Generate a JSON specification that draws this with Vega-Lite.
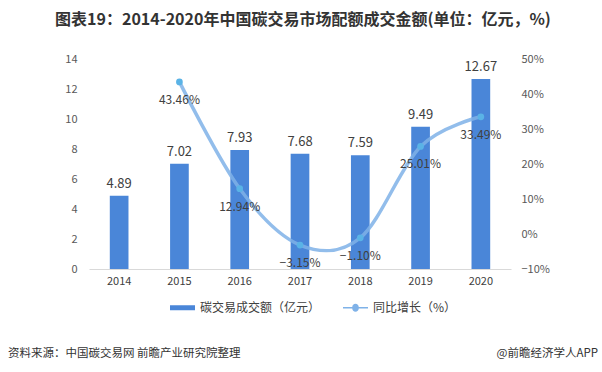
{
  "$schema": "https://vega.github.io/schema/vega-lite/v6.json",
  "padding": {"left": 8, "top": 12, "right": 4, "bottom": 4},
  "background": "white",
  "title": {
    "text": "图表19：2014-2020年中国碳交易市场配额成交金额(单位：亿元，%)",
    "anchor": "middle",
    "frame": "bounds",
    "font": "Noto Sans CJK SC",
    "fontSize": 16,
    "fontWeight": "bold",
    "color": "#333333",
    "offset": 25
  },
  "datasets": {
    "main": [
      {"year": "2014", "amount": 4.89, "growth": null},
      {"year": "2015", "amount": 7.02, "growth": 0.4346},
      {"year": "2016", "amount": 7.93, "growth": 0.1294},
      {"year": "2017", "amount": 7.68, "growth": -0.0315},
      {"year": "2018", "amount": 7.59, "growth": -0.011},
      {"year": "2019", "amount": 9.49, "growth": 0.2501},
      {"year": "2020", "amount": 12.67, "growth": 0.3349}
    ],
    "footer": [
      {"text": "资料来源：中国碳交易网 前瞻产业研究院整理", "side": "left", "pos": 0},
      {"text": "@前瞻经济学人APP", "side": "right", "pos": 1}
    ]
  },
  "spacing": 62,
  "vconcat": [
    {
      "width": 422,
      "height": 210,
      "data": {"name": "main"},
      "encoding": {
        "x": {
          "field": "year",
          "type": "ordinal",
          "scale": {"paddingInner": 0.69, "paddingOuter": 0.345},
          "axis": {
            "title": null,
            "labelAngle": 0,
            "ticks": false,
            "domainColor": "#d9d9d9",
            "domainWidth": 1,
            "labelFont": "Noto Sans CJK SC",
            "labelFontSize": 11,
            "labelColor": "#404040",
            "labelPadding": 6
          }
        }
      },
      "layer": [
        {
          "encoding": {
            "y": {
              "field": "amount",
              "type": "quantitative",
              "scale": {"domain": [0, 14]},
              "axis": {
                "title": null,
                "values": [0, 2, 4, 6, 8, 10, 12, 14],
                "labelOverlap": false,
                "grid": false,
                "domain": false,
                "ticks": false,
                "labelFont": "Noto Sans CJK SC",
                "labelFontSize": 11,
                "labelColor": "#595959",
                "labelPadding": 12,
                "minExtent": 81
              }
            }
          },
          "layer": [
            {
              "mark": {"type": "bar", "color": "#4a86d8"},
              "encoding": {
                "color": {
                  "datum": "碳交易成交额（亿元）",
                  "type": "nominal",
                  "scale": {
                    "domain": ["碳交易成交额（亿元）", "同比增长（%）"],
                    "range": ["#4a86d8", "#7fb2e8"]
                  },
                  "legend": {
                    "title": null,
                    "orient": "none",
                    "direction": "horizontal",
                    "legendX": 81,
                    "legendY": 236,
                    "symbolSize": 625,
                    "labelFont": "Noto Sans CJK SC",
                    "labelFontSize": 12,
                    "labelColor": "#404040",
                    "labelOffset": 5,
                    "columnPadding": 22,
                    "encode": {
                      "symbols": {
                        "update": {
                          "shape": {"signal": "datum.value === '碳交易成交额（亿元）' ? 'M-1,-0.2H1V0.2H-1Z' : 'M-1,-0.06H-0.26A0.26,0.26 0 0,1 0.26,-0.06H1V0.06H0.26A0.26,0.26 0 0,1 -0.26,0.06H-1Z M0.26,0A0.26,0.26 0 1,1 -0.26,0A0.26,0.26 0 1,1 0.26,0Z'"},
                          "fill": {"signal": "datum.value === '碳交易成交额（亿元）' ? '#4a86d8' : '#6fb0e6'"},
                          "stroke": {"value": "transparent"},
                          "strokeWidth": {"value": 0},
                          "opacity": {"value": 1}
                        }
                      }
                    }
                  }
                }
              }
            },
            {
              "mark": {"type": "text", "baseline": "bottom", "dy": -5, "font": "Noto Sans CJK SC", "fontSize": 13, "color": "#404040"},
              "encoding": {
                "text": {"field": "amount", "type": "quantitative", "format": ".2f"}
              }
            }
          ]
        },
        {
          "transform": [{"filter": "datum.growth != null"}],
          "encoding": {
            "y": {
              "field": "growth",
              "type": "quantitative",
              "scale": {"domain": [-0.1, 0.5]},
              "axis": {
                "orient": "right",
                "title": null,
                "values": [-0.1, 0, 0.1, 0.2, 0.3, 0.4, 0.5],
                "labelOverlap": false,
                "format": ".0%",
                "grid": false,
                "domain": false,
                "ticks": false,
                "labelFont": "Noto Sans CJK SC",
                "labelFontSize": 11,
                "labelColor": "#595959",
                "labelPadding": 10
              }
            }
          },
          "layer": [
            {
              "mark": {"type": "line", "interpolate": "cardinal", "strokeWidth": 3.5, "opacity": 0.85, "strokeCap": "round"},
              "encoding": {
                "color": {"datum": "同比增长（%）", "type": "nominal"}
              }
            },
            {
              "mark": {"type": "point", "shape": "circle", "filled": true, "size": 45, "color": "#5ab3e6", "opacity": 1}
            },
            {
              "mark": {"type": "text", "baseline": "middle", "dy": 18, "font": "Noto Sans CJK SC", "fontSize": 12, "color": "#404040"},
              "encoding": {
                "text": {"field": "growth", "type": "quantitative", "format": ".2%"}
              }
            }
          ]
        }
      ],
      "resolve": {"scale": {"y": "independent"}}
    },
    {
      "width": 509,
      "height": 12,
      "data": {"name": "footer"},
      "encoding": {
        "x": {"field": "pos", "type": "quantitative", "scale": {"domain": [0, 1], "range": [-81, 509]}, "axis": null},
        "text": {"field": "text"}
      },
      "layer": [
        {
          "transform": [{"filter": "datum.side === 'left'"}],
          "mark": {"type": "text", "align": "left", "baseline": "middle", "font": "Noto Sans CJK SC", "fontSize": 11.5, "color": "#333333"}
        },
        {
          "transform": [{"filter": "datum.side === 'right'"}],
          "mark": {"type": "text", "align": "right", "baseline": "middle", "font": "Noto Sans CJK SC", "fontSize": 11.5, "color": "#333333"}
        }
      ]
    }
  ],
  "config": {"view": {"stroke": null}}
}
